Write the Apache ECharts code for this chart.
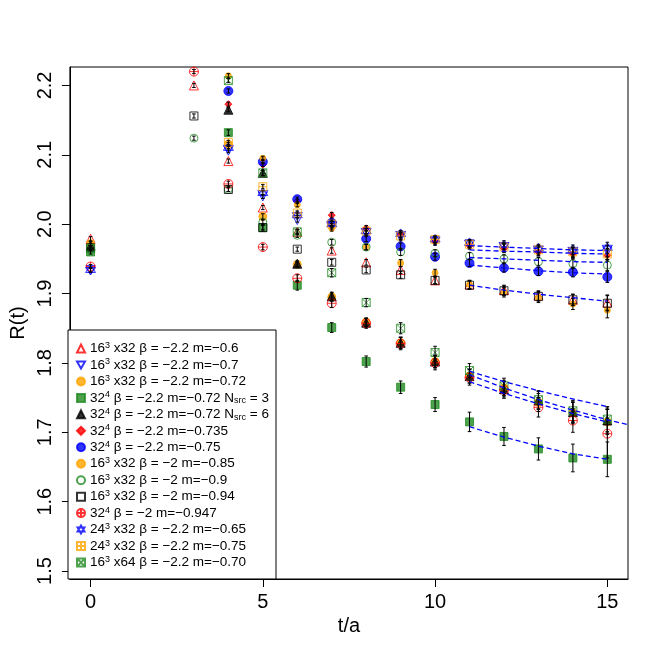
<!DOCTYPE html>
<html>
<head>
<meta charset="utf-8">
<script src="https://cdn.jsdelivr.net/npm/echarts@6/dist/echarts.min.js"></script>
<style>
html,body{margin:0;padding:0;background:#fff;}
#c{width:664px;height:664px;}
</style>
</head>
<body>
<div id="c"></div>
<script>
// time slices
const tVals = [0, 3, 4, 5, 6, 7, 8, 9, 10, 11, 12, 13, 14, 15];

// legend labels (rich text)
const labels = [
  '16{sup|3} x32 β = −2.2 m=−0.6',
  '16{sup|3} x32 β = −2.2 m=−0.7',
  '16{sup|3} x32 β = −2.2 m=−0.72',
  '32{sup|4} β = −2.2 m=−0.72 N{sub|src} = 3',
  '32{sup|4} β = −2.2 m=−0.72 N{sub|src} = 6',
  '32{sup|4} β = −2.2 m=−0.735',
  '32{sup|4} β = −2.2 m=−0.75',
  '16{sup|3} x32 β = −2 m=−0.85',
  '16{sup|3} x32 β = −2 m=−0.9',
  '16{sup|3} x32 β = −2 m=−0.94',
  '32{sup|4} β = −2 m=−0.947',
  '24{sup|3} x32 β = −2.2 m=−0.65',
  '24{sup|3} x32 β = −2.2 m=−0.75',
  '16{sup|3} x64 β = −2.2 m=−0.70'
];

// R(t) values per ensemble (null = no point)
const r1  = [1.979, 2.200, 2.091, 2.024, 1.989, 1.962, 1.945, 1.934, 1.919, 1.913, 1.905, 1.897, 1.891, 1.887];
const r2  = [1.934, null, 2.106, 2.040, 2.006, 1.997, 1.987, 1.981, 1.975, 1.971, 1.966, 1.961, 1.959, 1.961];
const r3  = [1.972, null, 2.115, 2.011, 1.942, 1.895, 1.859, 1.829, 1.802, 1.781, 1.764, 1.743, 1.728, 1.715];
const r4  = [1.960, null, 2.132, 1.995, 1.912, 1.851, 1.802, 1.765, 1.740, 1.715, 1.694, 1.676, 1.663, 1.661];
const r5  = [1.969, null, 2.165, 2.074, 1.943, 1.896, 1.858, 1.829, 1.802, 1.781, 1.762, 1.746, 1.729, 1.717];
const r6  = [null, null, 2.173, 2.086, 2.033, 2.013, 1.994, 1.985, 1.975, 1.969, 1.965, 1.960, 1.957, 1.955];
const r7  = [null, null, 2.192, 2.090, 2.036, 2.002, 1.979, 1.968, 1.953, 1.944, 1.937, 1.932, 1.931, 1.924];
const r8  = [null, null, 2.214, 2.095, 2.028, 1.994, 1.967, 1.944, 1.930, 1.913, 1.902, 1.894, 1.885, 1.876];
const r9  = [null, 2.124, 2.050, 2.003, 1.984, 1.974, 1.967, 1.960, 1.958, 1.954, 1.950, 1.946, 1.943, 1.941];
const r10 = [1.966, 2.156, 2.050, 1.995, 1.964, 1.945, 1.934, 1.927, 1.919, 1.912, 1.904, 1.896, 1.891, 1.886];
const r11 = [1.939, 2.220, 2.058, 1.967, 1.922, 1.886, 1.857, 1.828, 1.800, 1.779, 1.761, 1.736, 1.717, 1.698];
const r12 = [1.934, null, 2.110, 2.045, 2.013, 2.000, 1.990, 1.986, 1.978, 1.973, 1.970, 1.965, 1.963, 1.966];
const r13 = [null, null, 2.118, 2.054, 2.016, 2.000, 1.990, 1.983, 1.978, 1.971, 1.967, 1.963, 1.960, 1.957];
const r14 = [1.965, null, 2.207, 2.074, 1.989, 1.930, 1.887, 1.850, 1.815, 1.789, 1.767, 1.747, 1.731, 1.719];

// error estimates
const errUpper = [0.003, 0.003, 0.003, 0.003, 0.003, 0.004, 0.004, 0.005, 0.005, 0.005, 0.006, 0.006, 0.007, 0.008];
const errMid   = [0.003, 0.003, 0.003, 0.003, 0.003, 0.004, 0.004, 0.005, 0.005, 0.006, 0.007, 0.007, 0.008, 0.011];
const errLow   = [0.003, 0.003, 0.003, 0.004, 0.004, 0.006, 0.006, 0.008, 0.009, 0.010, 0.011, 0.013, 0.015, 0.018];
const errS4    = [0.003, 0.003, 0.004, 0.005, 0.007, 0.007, 0.008, 0.009, 0.010, 0.014, 0.013, 0.016, 0.020, 0.025];
const errS11   = [0.003, 0.003, 0.004, 0.004, 0.005, 0.006, 0.007, 0.009, 0.010, 0.011, 0.012, 0.014, 0.017, 0.035];

// fit curves (blue dashed)
const fitT     = [11, 12, 13, 14, 15];
const fitTLong = [11, 12, 13, 14, 15, 15.6];
const fitU1 = [1.969, 1.967, 1.965, 1.963, 1.962];
const fitU2 = [1.963, 1.961, 1.960, 1.958, 1.957];
const fitU3 = [1.952, 1.950, 1.948, 1.946, 1.945];
const fitU4 = [1.941, 1.937, 1.933, 1.930, 1.928];
const fitM1 = [1.912, 1.905, 1.899, 1.894, 1.889];
const fitL1 = [1.788, 1.773, 1.760, 1.748, 1.737];
const fitL2 = [1.783, 1.764, 1.747, 1.732, 1.718, 1.711];
const fitL3 = [1.773, 1.756, 1.741, 1.727, 1.715];
const fitG  = [1.708, 1.693, 1.680, 1.669, 1.661];

// axis ticks
const xTicks = [0, 5, 10, 15];
const yTicks = [1.5, 1.6, 1.7, 1.8, 1.9, 2.0, 2.1, 2.2];

const values = [r1, r2, r3, r4, r5, r6, r7, r8, r9, r10, r11, r12, r13, r14];
const errors = [errMid, errUpper, errLow, errS4, errLow, errUpper, errUpper, errMid, errUpper, errMid, errS11, errUpper, errUpper, errLow];

const RED = '#FF0000', BLUE = '#0000FF', ORANGE = '#FFA500', GREEN = '#228B22', BLACK = '#000000';
const NONE = 'rgba(0,0,0,0)';
const DOWN_TRI = 'path://M0,10 L-8.66,-5 L8.66,-5 Z';
const STAR = 'path://M0,-10 L8.66,5 L-8.66,5 Z M0,10 L8.66,-5 L-8.66,-5 Z';
const CIRC_PLUS = 'path://M10,0 A10,10 0 1,1 -10,0 A10,10 0 1,1 10,0 Z M-10,0 L10,0 M0,-10 L0,10';
const SQ_PLUS = 'path://M-10,-10 L10,-10 L10,10 L-10,10 Z M-10,0 L10,0 M0,-10 L0,10';
const SQ_X = 'path://M-10,-10 L10,-10 L10,10 L-10,10 Z M-10,-10 L10,10 M-10,10 L10,-10';

const styles = [
  {symbol: 'triangle', size: 9, fill: NONE, stroke: RED},
  {symbol: DOWN_TRI, size: 9, fill: NONE, stroke: BLUE},
  {symbol: 'circle', size: 8, fill: ORANGE, stroke: ORANGE},
  {symbol: 'rect', size: 8, fill: GREEN, stroke: GREEN},
  {symbol: 'triangle', size: 9, fill: BLACK, stroke: BLACK},
  {symbol: 'diamond', size: 7, fill: RED, stroke: RED},
  {symbol: 'circle', size: 9, fill: BLUE, stroke: BLUE},
  {symbol: 'circle', size: 6, fill: ORANGE, stroke: ORANGE},
  {symbol: 'circle', size: 8, fill: NONE, stroke: GREEN},
  {symbol: 'rect', size: 8, fill: NONE, stroke: BLACK},
  {symbol: CIRC_PLUS, size: 9, fill: NONE, stroke: RED},
  {symbol: STAR, size: 10, fill: NONE, stroke: BLUE},
  {symbol: SQ_PLUS, size: 8, fill: NONE, stroke: ORANGE},
  {symbol: SQ_X, size: 8, fill: NONE, stroke: GREEN}
];

const FONT = '"Liberation Sans", Arial, Helvetica, sans-serif';

const series = [];
values.forEach((vals, i) => {
  const st = styles[i];
  series.push({
    name: labels[i],
    type: 'scatter',
    symbol: st.symbol,
    symbolSize: st.size,
    itemStyle: {color: st.fill, borderColor: st.stroke, borderWidth: 1},
    data: tVals.map((t, k) => vals[k] == null ? null : [t, vals[k]]).filter(d => d),
    z: 2,
    silent: true
  });
});

const ebData = [];
values.forEach((vals, i) => {
  tVals.forEach((t, k) => {
    if (vals[k] != null) ebData.push([t, vals[k], errors[i][k]]);
  });
});
series.push({
  name: 'errorbars',
  type: 'custom',
  silent: true,
  z: 3,
  encode: {x: 0, y: 1},
  data: ebData,
  renderItem: function (params, api) {
    const t = api.value(0), v = api.value(1), e = api.value(2);
    const lo = api.coord([t, v - e]), hi = api.coord([t, v + e]);
    const w = 1.8, s = {stroke: '#000', lineWidth: 1};
    return {type: 'group', children: [
      {type: 'line', shape: {x1: lo[0], y1: lo[1], x2: hi[0], y2: hi[1]}, style: s},
      {type: 'line', shape: {x1: lo[0] - w, y1: lo[1], x2: lo[0] + w, y2: lo[1]}, style: s},
      {type: 'line', shape: {x1: hi[0] - w, y1: hi[1], x2: hi[0] + w, y2: hi[1]}, style: s}
    ]};
  }
});

const fits = [
  [fitT, fitU1], [fitT, fitU2], [fitT, fitU3], [fitT, fitU4], [fitT, fitM1],
  [fitT, fitL1], [fitTLong, fitL2], [fitT, fitL3], [fitT, fitG]
];
fits.forEach((f, j) => {
  series.push({
    name: 'fit' + j,
    type: 'line',
    symbol: 'none',
    silent: true,
    z: 4,
    lineStyle: {color: BLUE, width: 1.3, type: [5, 3]},
    data: f[0].map((t, k) => [t, f[1][k]])
  });
});

const chart = echarts.init(document.getElementById('c'), null, {renderer: 'canvas'});
chart.setOption({
  backgroundColor: '#fff',
  animation: false,
  textStyle: {fontFamily: FONT},
  grid: {left: 68, right: 36, top: 67, bottom: 85, show: true, borderColor: '#000', borderWidth: 1, containLabel: false},
  xAxis: {
    type: 'value', min: -0.6, max: 15.6,
    name: 't/a', nameLocation: 'middle', nameGap: 28,
    nameTextStyle: {fontSize: 20, color: '#000', fontFamily: FONT},
    axisLine: {show: true, onZero: false, lineStyle: {color: '#000', width: 1}},
    axisTick: {show: true, length: 8, inside: false, customValues: xTicks, lineStyle: {color: '#000'}},
    axisLabel: {customValues: xTicks, fontSize: 20, color: '#000', margin: 13, fontFamily: FONT},
    splitLine: {show: false}
  },
  yAxis: {
    type: 'value', min: 1.4885, max: 2.2266,
    name: 'R(t)', nameLocation: 'middle', nameGap: 36, nameRotate: 90,
    nameTextStyle: {fontSize: 20, color: '#000', fontFamily: FONT},
    axisLine: {show: true, onZero: false, lineStyle: {color: '#000', width: 1}},
    axisTick: {show: true, length: 8, inside: false, customValues: yTicks, lineStyle: {color: '#000'}},
    axisLabel: {customValues: yTicks, fontSize: 20, color: '#000', margin: 14, rotate: 90, fontFamily: FONT,
      formatter: v => v.toFixed(1)},
    splitLine: {show: false}
  },
  legend: {
    data: labels,
    orient: 'vertical',
    left: 68, top: 330,
    padding: [11, 7, 9, 8],
    itemGap: 1.46,
    itemWidth: 8, itemHeight: 8,
    backgroundColor: '#fff',
    borderColor: '#000', borderWidth: 1, borderRadius: 0,
    selectedMode: false,
    formatter: n => n,
    textStyle: {
      fontSize: 13.5, color: '#000', fontFamily: FONT, lineHeight: 14,
      rich: {
        sup: {fontSize: 9, lineHeight: 8, padding: [0, 0, 6, 0], fontFamily: FONT, color: '#000'},
        sub: {fontSize: 9, lineHeight: 8, padding: [6, 0, 0, 0], fontFamily: FONT, color: '#000'}
      }
    }
  },
  series: series
});
</script>
</body>
</html>
